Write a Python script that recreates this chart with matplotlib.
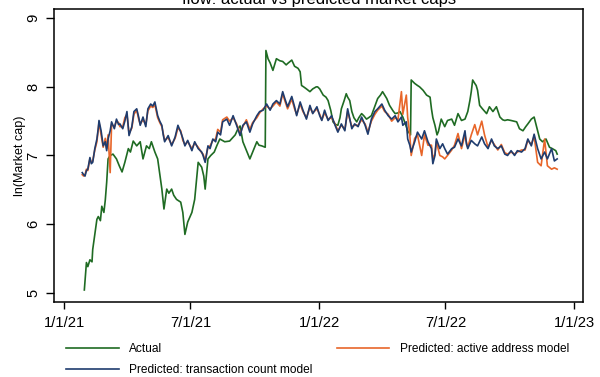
import numpy as np
import matplotlib
matplotlib.use("Agg")
import matplotlib.pyplot as plt

plt.rcParams['font.family'] = ['Liberation Sans', 'DejaVu Sans']

# ---- data (day offsets from 2021-01-01, values are ln(market cap)) ----
actual_days = [29, 31, 32, 34, 37, 40, 41, 44, 47, 49,
               52, 54, 57, 59, 61, 63, 66, 70, 75, 79,
               83, 87, 92, 95, 99, 104, 109, 113, 118, 122,
               125, 130, 134, 140, 143, 147, 150, 154, 157, 161,
               167, 170, 173, 177, 183, 187, 192, 197, 200, 202,
               206, 210, 215, 219, 223, 230, 237, 245, 249, 252,
               256, 260, 266, 270, 276, 279, 283, 288, 289, 292,
               295, 299, 304, 309, 313, 318, 320, 326, 330, 335,
               338, 340, 343, 347, 352, 356, 361, 363, 366, 371,
               375, 378, 382, 385, 389, 392, 395, 397, 401, 404,
               406, 409, 412, 415, 419, 422, 426, 429, 433, 436,
               440, 445, 449, 453, 456, 462, 466, 471, 474, 478,
               481, 485, 489, 492, 496, 497, 502, 506, 509, 514,
               519, 524, 526, 528, 531, 534, 536, 540, 545, 549,
               555, 559, 564, 569, 574, 578, 581, 583, 585, 588,
               590, 592, 595, 599, 605, 609, 614, 619, 624, 628,
               631, 635, 640, 644, 648, 652, 657, 661, 664, 669,
               673, 676, 681, 685, 690, 695, 699, 704, 706]
actual_vals = [5.04, 5.30, 5.44, 5.38, 5.48, 5.45, 5.63, 5.85, 6.07, 6.11,
               6.05, 6.26, 6.17, 6.35, 6.61, 6.95, 7.00, 7.02, 6.95, 6.85,
               6.76, 6.90, 7.10, 7.05, 7.21, 7.14, 7.20, 6.95, 7.14, 7.10,
               7.20, 7.05, 6.95, 6.51, 6.22, 6.51, 6.45, 6.51, 6.42, 6.36,
               6.32, 6.17, 5.85, 6.03, 6.17, 6.36, 6.90, 6.83, 6.70, 6.51,
               6.95, 7.00, 7.05, 7.15, 7.24, 7.20, 7.21, 7.30, 7.39, 7.43,
               7.20, 7.10, 6.95, 7.05, 7.20, 7.15, 7.14, 7.12, 8.53, 8.41,
               8.35, 8.24, 8.41, 8.38, 8.37, 8.32, 8.34, 8.39, 8.30, 8.27,
               8.22, 8.02, 8.00, 7.97, 7.93, 7.97, 8.00, 8.00, 7.97, 7.88,
               7.85, 7.80, 7.65, 7.49, 7.45, 7.44, 7.55, 7.68, 7.80, 7.90,
               7.85, 7.80, 7.64, 7.55, 7.49, 7.55, 7.61, 7.58, 7.53, 7.55,
               7.58, 7.72, 7.83, 7.88, 7.93, 7.83, 7.73, 7.65, 7.61, 7.62,
               7.64, 7.56, 7.45, 7.36, 7.30, 8.10, 8.05, 8.02, 8.00, 7.95,
               7.88, 7.85, 7.68, 7.55, 7.44, 7.30, 7.35, 7.53, 7.42, 7.51,
               7.53, 7.44, 7.61, 7.51, 7.53, 7.64, 7.80, 7.93, 8.10, 8.05,
               8.02, 7.95, 7.73, 7.68, 7.61, 7.71, 7.64, 7.71, 7.56, 7.52,
               7.51, 7.52, 7.51, 7.50, 7.49, 7.39, 7.36, 7.42, 7.46, 7.53,
               7.56, 7.44, 7.24, 7.20, 7.24, 7.12, 7.10, 7.07, 7.02]

pred_days = [26, 28, 30, 32, 34, 37, 39, 41, 44, 47,
             49, 50, 53, 56, 59, 61, 63, 66, 68, 72,
             75, 78, 80, 84, 87, 90, 93, 97, 100, 104,
             107, 109, 113, 117, 120, 124, 127, 130, 134, 137,
             140, 142, 144, 149, 154, 159, 163, 167, 170, 173,
             177, 183, 187, 192, 197, 199, 202, 206, 209, 213,
             217, 220, 224, 227, 233, 237, 242, 247, 252, 256,
             261, 266, 270, 276, 280, 285, 290, 295, 299, 304,
             309, 313, 316, 320, 326, 330, 333, 338, 342, 347,
             352, 356, 362, 366, 369, 373, 378, 383, 388, 392,
             397, 402, 406, 412, 416, 421, 426, 431, 435, 440,
             445, 449, 455, 459, 464, 469, 474, 478, 483, 485,
             490, 492, 495, 497, 502, 506, 512, 516, 521, 526,
             528, 531, 533, 538, 542, 545, 549, 555, 559, 564,
             569, 574, 576, 578, 583, 588, 592, 598, 602, 607,
             612, 616, 621, 626, 631, 635, 640, 645, 649, 655,
             660, 664, 669, 673, 678, 683, 688, 692, 698, 702,
             706]
txcount_vals = [6.75, 6.72, 6.70, 6.78, 6.80, 6.97, 6.88, 6.90, 7.10, 7.24,
                7.40, 7.51, 7.36, 7.14, 7.20, 7.07, 7.24, 7.36, 7.49, 7.39,
                7.53, 7.45, 7.46, 7.39, 7.50, 7.64, 7.29, 7.42, 7.64, 7.68,
                7.55, 7.44, 7.56, 7.42, 7.68, 7.75, 7.72, 7.78, 7.58, 7.50,
                7.44, 7.30, 7.20, 7.29, 7.14, 7.27, 7.44, 7.34, 7.25, 7.14,
                7.22, 7.07, 7.20, 7.10, 7.05, 7.00, 6.90, 7.14, 7.10, 7.24,
                7.20, 7.34, 7.30, 7.49, 7.53, 7.44, 7.58, 7.44, 7.29, 7.44,
                7.49, 7.34, 7.46, 7.58, 7.64, 7.66, 7.75, 7.66, 7.75, 7.80,
                7.75, 7.93, 7.83, 7.71, 7.86, 7.71, 7.58, 7.78, 7.66, 7.53,
                7.73, 7.61, 7.71, 7.58, 7.51, 7.66, 7.51, 7.58, 7.44, 7.34,
                7.46, 7.36, 7.68, 7.39, 7.46, 7.42, 7.56, 7.44, 7.31, 7.53,
                7.64, 7.68, 7.75, 7.66, 7.58, 7.53, 7.58, 7.49, 7.56, 7.44,
                7.49, 7.24, 7.15, 7.05, 7.20, 7.34, 7.24, 7.36, 7.20, 7.10,
                6.88, 7.00, 7.24, 7.10, 7.17, 7.10, 7.02, 7.10, 7.12, 7.24,
                7.14, 7.36, 7.17, 7.10, 7.22, 7.17, 7.14, 7.27, 7.17, 7.10,
                7.24, 7.14, 7.10, 7.14, 7.02, 7.00, 7.07, 7.00, 7.07, 7.05,
                7.10, 7.24, 7.14, 7.31, 7.10, 6.95, 7.05, 6.95, 7.10, 6.92,
                6.95]
address_vals = [6.72, 6.70, 6.72, 6.80, 6.78, 6.95, 6.90, 6.92, 7.08, 7.20,
                7.38, 7.48, 7.30, 7.12, 7.25, 7.10, 7.30, 6.75, 7.45, 7.42,
                7.50, 7.48, 7.42, 7.42, 7.55, 7.60, 7.32, 7.40, 7.60, 7.66,
                7.52, 7.46, 7.52, 7.45, 7.65, 7.72, 7.70, 7.74, 7.55, 7.48,
                7.42, 7.32, 7.22, 7.26, 7.16, 7.25, 7.40, 7.36, 7.22, 7.16,
                7.20, 7.10, 7.18, 7.12, 7.04, 7.02, 6.92, 7.12, 7.14, 7.22,
                7.24, 7.38, 7.34, 7.52, 7.56, 7.50, 7.55, 7.46, 7.32, 7.42,
                7.52, 7.38, 7.48, 7.55, 7.62, 7.68, 7.72, 7.68, 7.72, 7.78,
                7.72, 7.90, 7.80, 7.68, 7.82, 7.68, 7.60, 7.75, 7.64, 7.55,
                7.70, 7.62, 7.68, 7.60, 7.52, 7.62, 7.53, 7.55, 7.46, 7.36,
                7.44, 7.38, 7.64, 7.42, 7.44, 7.44, 7.52, 7.46, 7.34, 7.50,
                7.60, 7.66, 7.72, 7.64, 7.60, 7.50, 7.55, 7.52, 7.93, 7.60,
                7.88, 7.55, 7.30, 7.00, 7.25, 7.30, 7.00, 7.30, 7.15, 7.15,
                6.95, 7.02, 7.20, 7.00, 6.98, 6.95, 7.00, 7.08, 7.15, 7.32,
                7.10, 7.30, 7.20, 7.12, 7.30, 7.45, 7.30, 7.50, 7.30, 7.12,
                7.22, 7.16, 7.08, 7.16, 7.04, 7.02, 7.05, 7.02, 7.05, 7.08,
                7.08, 7.22, 7.16, 7.28, 6.90, 6.85, 7.24, 6.85, 6.80, 6.82,
                6.80]

start_date = np.datetime64('2021-01-01')
tick_dates = ['2021-01-01', '2021-07-01', '2022-01-01', '2022-07-01', '2023-01-01']
tick_labels = ['1/1/21', '7/1/21', '1/1/22', '7/1/22', '1/1/23']
y_ticks = [5, 6, 7, 8, 9]

labels = ['Actual', 'Predicted: transaction count model', 'Predicted: active address model']
colors = ['#1f6b23', '#1f3c6e', '#e8662a']

# ---- figure ----
fig = plt.figure(figsize=(6.0, 3.77), dpi=100)
ax = fig.add_axes([0.0905, 0.1997, 0.8812, 0.7756])

a_dates = start_date + np.array(actual_days).astype('timedelta64[D]')
p_dates = start_date + np.array(pred_days).astype('timedelta64[D]')

l_act, = ax.plot(a_dates, actual_vals, color=colors[0], lw=1.2, label=labels[0])
l_addr, = ax.plot(p_dates, address_vals, color=colors[2], lw=1.2, label=labels[2])
l_tx, = ax.plot(p_dates, txcount_vals, color=colors[1], lw=1.2, label=labels[1])

ax.set_xlim(np.datetime64('2020-12-18'), np.datetime64('2023-01-14'))
ax.set_ylim(4.869, 9.13)

ax.set_xticks([np.datetime64(d) for d in tick_dates])
ax.set_xticklabels(tick_labels)
ax.set_yticks(y_ticks)
ax.set_yticklabels([str(v) for v in y_ticks], rotation=90, va='center')

ax.tick_params(axis='x', direction='out', length=5, width=1.0, labelsize=10.6, pad=5)
ax.tick_params(axis='y', direction='out', length=6, width=1.0, labelsize=10.6, pad=4)
for s in ax.spines.values():
    s.set_linewidth(1.1)
    s.set_color('black')

ax.set_ylabel('ln(Market cap)', fontsize=9, labelpad=0)

fig.text(0.531, 0.989, 'flow: actual vs predicted market caps', ha='center',
         va='baseline', fontsize=12)

fig.legend(handles=[l_act, l_tx, l_addr], labels=[labels[0], labels[1], labels[2]],
           ncol=2, loc='upper left', bbox_to_anchor=(0.110, 0.090),
           frameon=False, fontsize=8.6, handlelength=4.4, handletextpad=0.9,
           columnspacing=2.0, labelspacing=0.75, borderaxespad=0, borderpad=0)

fig.savefig('out.png', dpi=100)
